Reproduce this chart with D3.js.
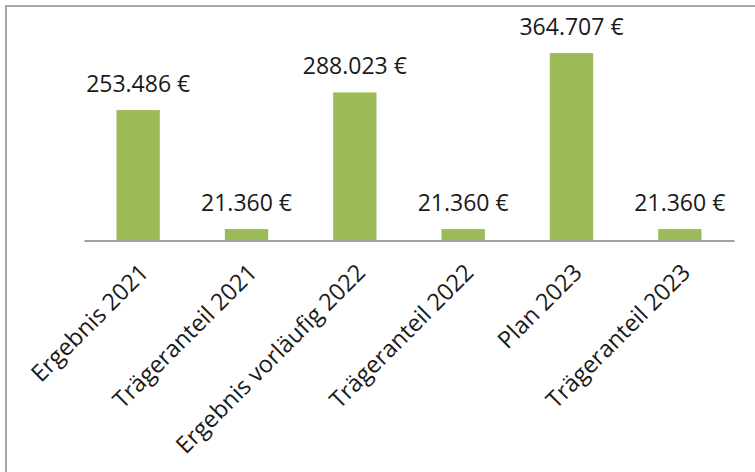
<!DOCTYPE html>
<html>
<head>
<meta charset="utf-8">
<script src="https://cdn.jsdelivr.net/npm/d3@7"></script>
<style>
  html, body { margin: 0; padding: 0; background: #fff; }
  svg { display: block; }
</style>
</head>
<body>
<svg id="chart" width="755" height="472"></svg>
<script>
// Budget overview: results, sponsor shares and plan
const categories = [
  "Ergebnis 2021",
  "Trägeranteil 2021",
  "Ergebnis vorläufig 2022",
  "Trägeranteil 2022",
  "Plan 2023",
  "Trägeranteil 2023"
];
const values = [253486, 21360, 288023, 21360, 364707, 21360];
const valueLabels = ["253.486 €", "21.360 €", "288.023 €", "21.360 €", "364.707 €", "21.360 €"];

const svg = d3.select("#chart");
const W = 755, H = 472;
const font = "'Open Sans', sans-serif";

// outer frame (runs off the right and bottom edges)
svg.append("rect")
  .attr("x", 6).attr("y", 6)
  .attr("width", W + 20).attr("height", H + 20)
  .attr("fill", "none")
  .attr("stroke", "#a6a6a6")
  .attr("stroke-width", 2);

const plot = { left: 84, right: 734, top: 35, bottom: 240 };

const x = d3.scaleBand()
  .domain(categories)
  .range([plot.left, plot.right])
  .paddingInner(0.6)
  .paddingOuter(0.3);

const y = d3.scaleLinear()
  .domain([0, 400000])
  .range([plot.bottom, plot.top]);

// bars
svg.append("g").selectAll("rect")
  .data(categories)
  .join("rect")
  .attr("x", d => x(d))
  .attr("width", x.bandwidth())
  .attr("y", (d, i) => y(values[i]))
  .attr("height", (d, i) => y(0) - y(values[i]))
  .attr("fill", "#9bbb59");

// category axis line
const xAxis = d3.axisBottom(x).tickSize(0).tickFormat("");
const axisG = svg.append("g")
  .attr("transform", `translate(0,${plot.bottom + 0.5})`)
  .call(xAxis);
axisG.select(".domain")
  .attr("stroke", "#a0a0a0")
  .attr("stroke-width", 2);

// rotated category labels
svg.append("g").selectAll("text")
  .data(categories)
  .join("text")
  .attr("transform", d => `translate(${x(d) + x.bandwidth() / 2},${plot.bottom + 22}) rotate(-45)`)
  .attr("text-anchor", "end")
  .attr("dy", "0.72em")
  .attr("font-family", font)
  .attr("font-size", 23.5)
  .attr("fill", "#1a1a1a")
  .text(d => d);

// value labels above bars
svg.append("g").selectAll("text")
  .data(categories)
  .join("text")
  .attr("x", d => x(d) + x.bandwidth() / 2)
  .attr("y", (d, i) => y(values[i]) - 18)
  .attr("text-anchor", "middle")
  .attr("font-family", font)
  .attr("font-size", 23)
  .attr("fill", "#1a1a1a")
  .text((d, i) => valueLabels[i]);
</script>
</body>
</html>
